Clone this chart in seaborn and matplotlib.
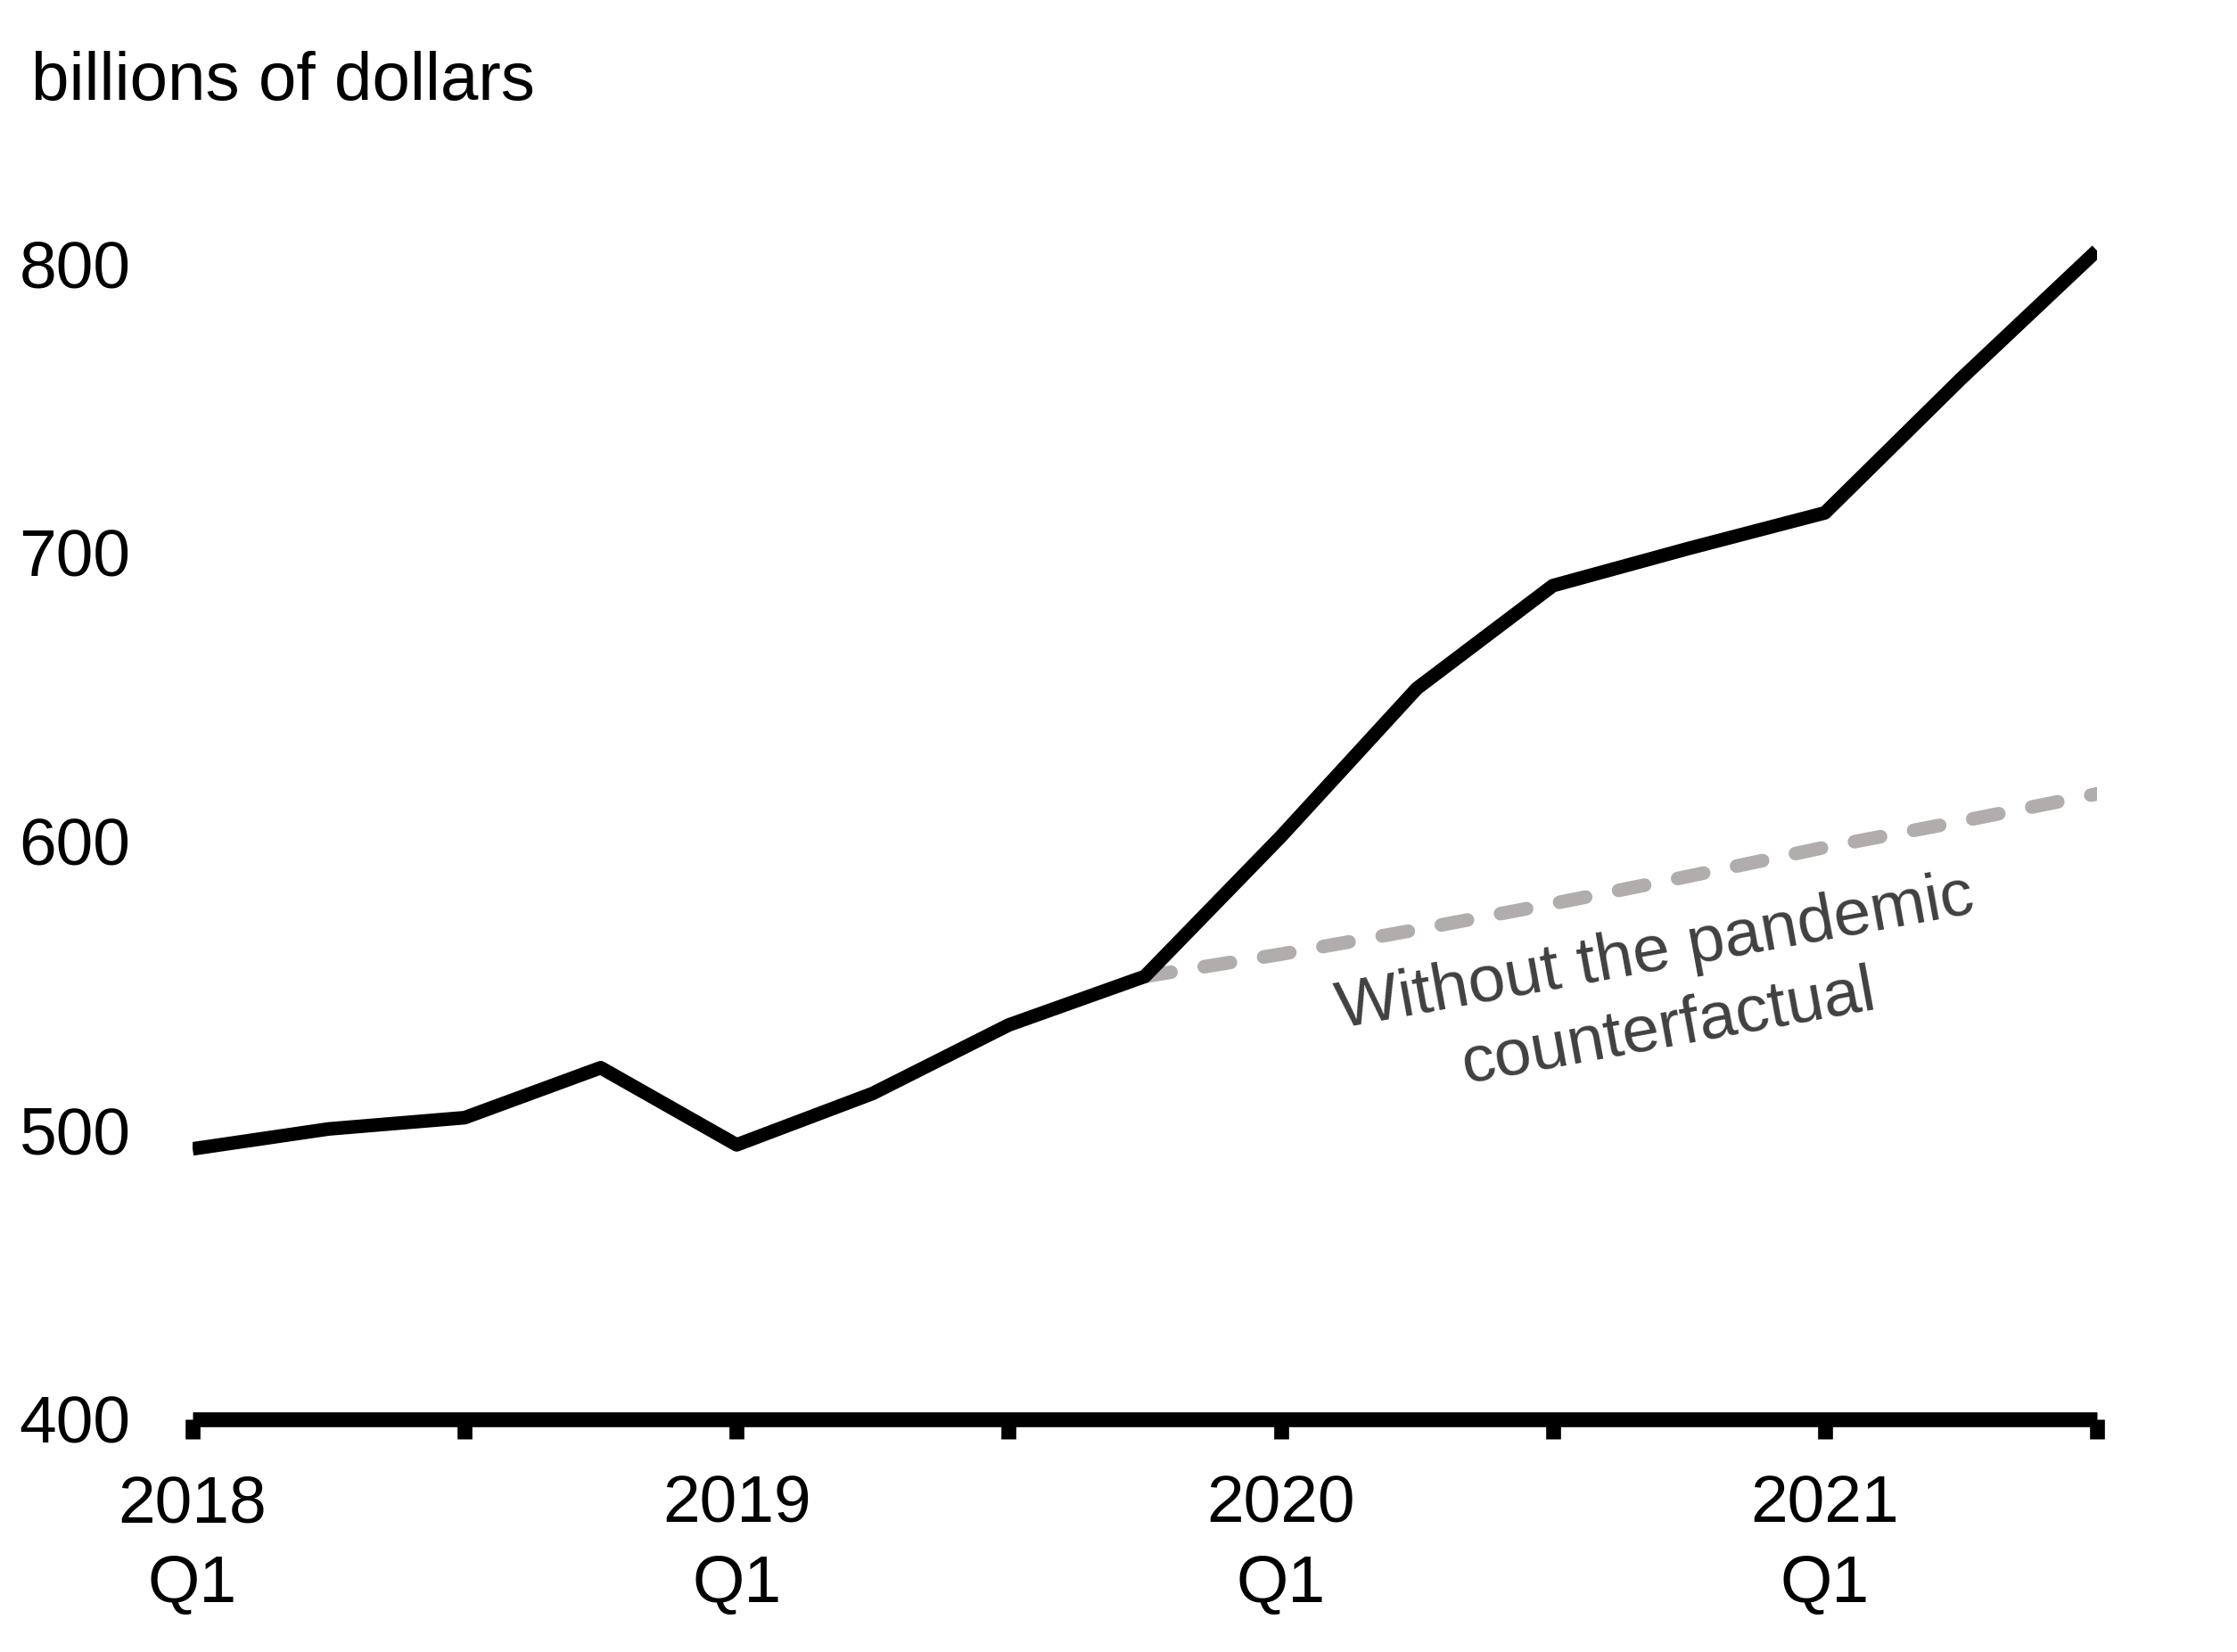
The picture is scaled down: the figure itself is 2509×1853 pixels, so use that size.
import numpy as np
import seaborn as sns
import matplotlib.pyplot as plt
import pandas as pd

# quarterly values, billions of dollars (2018Q1 .. 2021Q3)
quarters = ['2018Q1', '2018Q2', '2018Q3', '2018Q4',
            '2019Q1', '2019Q2', '2019Q3', '2019Q4',
            '2020Q1', '2020Q2', '2020Q3', '2020Q4',
            '2021Q1', '2021Q2', '2021Q3']
actual = [493.6, 500.5, 504.4, 521.7, 495.0, 512.8, 536.5, 553.3,
          601.7, 653.0, 688.6, 701.5, 713.8, 760.2, 804.6]
# counterfactual starts at 2019Q4
counter = [553.3, 561.0, 569.5, 578.5, 588.0, 598.0, 607.0, 616.5]
tick_labels = ['2018\nQ1', '', '2019\nQ1', '', '2020\nQ1', '', '2021\nQ1', '']

sns.set_style('white')
plt.rcParams['font.family'] = ['Liberation Sans', 'DejaVu Sans']
plt.rcParams['text.color'] = 'black'
plt.rcParams['xtick.color'] = 'black'
plt.rcParams['ytick.color'] = 'black'

x_all = np.arange(len(quarters))
df_act = pd.DataFrame({'q': x_all, 'val': actual})
df_cf = pd.DataFrame({'q': x_all[len(quarters) - len(counter):], 'val': counter})

fig = plt.figure(figsize=(25.09, 18.53), dpi=100)
ax = fig.add_axes([0.0861, 0.1409, 0.8513, 0.7868])

sns.lineplot(data=df_cf, x='q', y='val', ax=ax, color='#b0adac', linewidth=11,
             estimator=None, linestyle=(0, (1.95, 2.47)),
             dash_capstyle='round', zorder=2)
sns.lineplot(data=df_act, x='q', y='val', ax=ax, color='black', linewidth=11,
             estimator=None, solid_capstyle='butt', zorder=3)

ax.set_xlim(0, len(quarters) - 1)
ax.set_ylim(400, 850)
ax.set_yticks([400, 500, 600, 700, 800])
ax.set_xticks(np.arange(0, len(quarters), 2))
ax.set_xticklabels(tick_labels, linespacing=1.38)
ax.set_xlabel('')
ax.set_ylabel('')

for s in ['left', 'right', 'top']:
    ax.spines[s].set_visible(False)
ax.spines['bottom'].set_linewidth(12)
ax.spines['bottom'].set_color('black')
ax.spines['bottom'].set_capstyle('butt')

ax.tick_params(axis='x', direction='out', length=16, width=12, color='black',
               labelsize=54, pad=28, bottom=True)
ax.tick_params(axis='y', length=0, labelsize=54, pad=50)

ax.text(10.80, 548.4, 'Without the pandemic\ncounterfactual', fontsize=54,
        color='#404040', rotation=10.3, rotation_mode='anchor',
        ha='center', va='center', multialignment='center', linespacing=1.31)

fig.text(0.014, 0.9396, 'billions of dollars', fontsize=55, ha='left',
         va='baseline')

plt.savefig('out.png', dpi=100)
